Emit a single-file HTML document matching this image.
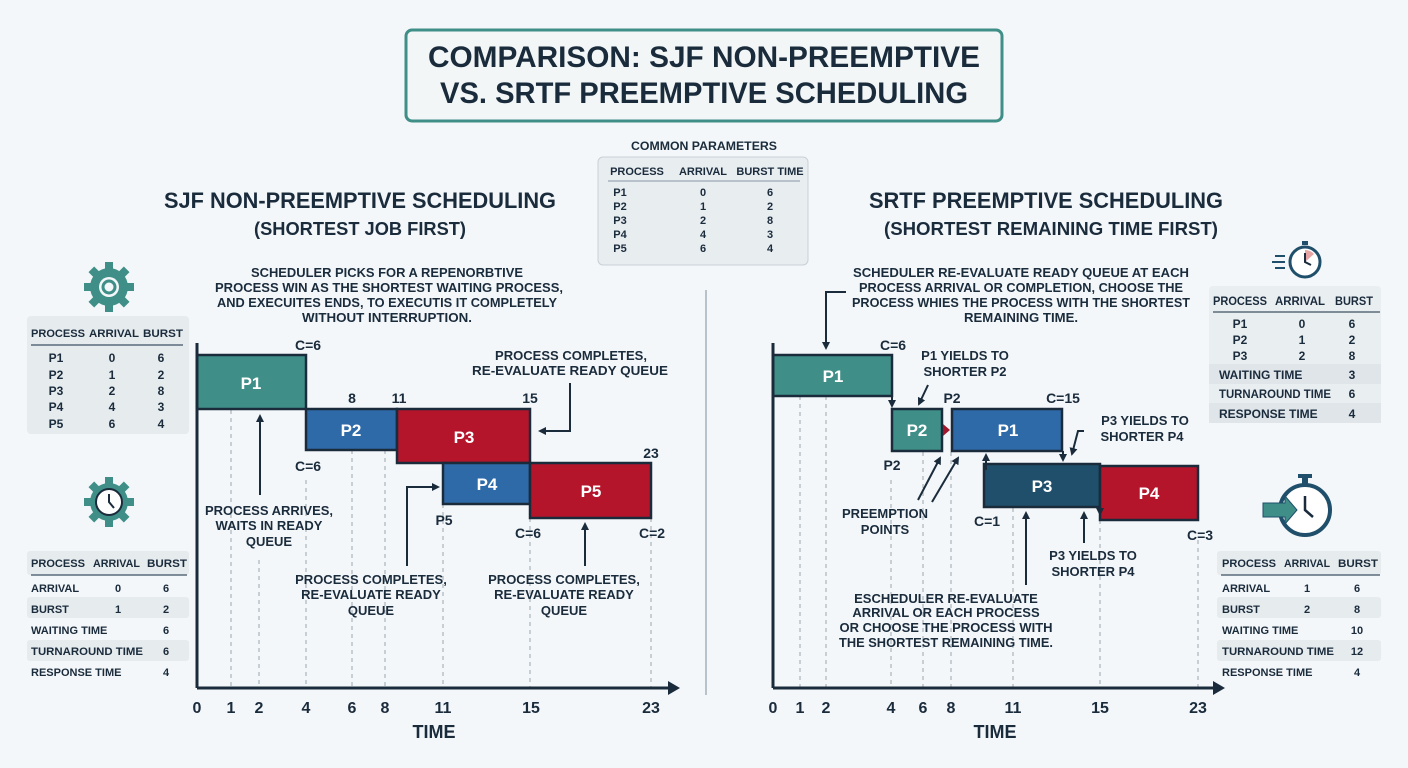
<!DOCTYPE html>
<html><head><meta charset="utf-8"><style>
html,body{margin:0;padding:0;background:#f4f7f9;}
svg{display:block;font-family:"Liberation Sans",sans-serif;font-weight:bold;}
</style></head><body>
<svg width="1408" height="768" viewBox="0 0 1408 768" xmlns="http://www.w3.org/2000/svg">
<defs>
<marker id="ar" markerWidth="8" markerHeight="8" refX="6" refY="4" orient="auto" markerUnits="userSpaceOnUse"><path d="M0,0 L8,4 L0,8 z" fill="#1a2b3c"/></marker>
</defs>
<rect width="1408" height="768" fill="#f4f7f9"/>
<g fill="#1a2b3c">
<!-- title -->
<rect x="406" y="30" width="596" height="91" rx="6" fill="#f2f6f6" stroke="#3f8f88" stroke-width="3"/>
<text x="704" y="67" font-size="30" text-anchor="middle" textLength="552" lengthAdjust="spacingAndGlyphs">COMPARISON: SJF NON-PREEMPTIVE</text>
<text x="704" y="103" font-size="30" text-anchor="middle" textLength="528" lengthAdjust="spacingAndGlyphs">VS. SRTF PREEMPTIVE SCHEDULING</text>

<!-- common parameters -->
<text x="704" y="150" font-size="12" text-anchor="middle" textLength="146" lengthAdjust="spacingAndGlyphs">COMMON PARAMETERS</text>
<rect x="598" y="157" width="210" height="108" rx="5" fill="#e8edf0" stroke="#c8d0d6"/>
<g font-size="11" text-anchor="middle">
<text x="637" y="175">PROCESS</text><text x="703" y="175">ARRIVAL</text><text x="770" y="175">BURST TIME</text>
<line x1="608" y1="181" x2="800" y2="181" stroke="#8a97a3"/>
<text x="620" y="196">P1</text><text x="703" y="196">0</text><text x="770" y="196">6</text>
<text x="620" y="210">P2</text><text x="703" y="210">1</text><text x="770" y="210">2</text>
<text x="620" y="224">P3</text><text x="703" y="224">2</text><text x="770" y="224">8</text>
<text x="620" y="238">P4</text><text x="703" y="238">4</text><text x="770" y="238">3</text>
<text x="620" y="252">P5</text><text x="703" y="252">6</text><text x="770" y="252">4</text>
</g>

<!-- headings -->
<text x="360" y="208" font-size="22" text-anchor="middle" textLength="392" lengthAdjust="spacingAndGlyphs">SJF NON-PREEMPTIVE SCHEDULING</text>
<text x="360" y="235" font-size="18" text-anchor="middle" textLength="212" lengthAdjust="spacingAndGlyphs">(SHORTEST JOB FIRST)</text>
<text x="1046" y="208" font-size="22" text-anchor="middle" textLength="354" lengthAdjust="spacingAndGlyphs">SRTF PREEMPTIVE SCHEDULING</text>
<text x="1051" y="235" font-size="18" text-anchor="middle" textLength="334" lengthAdjust="spacingAndGlyphs">(SHORTEST REMAINING TIME FIRST)</text>

<line x1="706" y1="290" x2="706" y2="695" stroke="#b8c2ca" stroke-width="2"/>

<!-- left description -->
<g font-size="13" text-anchor="middle">
<text x="387" y="277" textLength="272" lengthAdjust="spacingAndGlyphs">SCHEDULER PICKS FOR A REPENORBTIVE</text>
<text x="389" y="292" textLength="348" lengthAdjust="spacingAndGlyphs">PROCESS WIN AS THE SHORTEST WAITING PROCESS,</text>
<text x="387" y="307" textLength="340" lengthAdjust="spacingAndGlyphs">AND EXECUITES ENDS, TO EXECUTIS IT COMPLETELY</text>
<text x="387" y="322" textLength="170" lengthAdjust="spacingAndGlyphs">WITHOUT INTERRUPTION.</text>
</g>

<!-- left gear icon -->
<g transform="translate(109,287)">
<circle r="19" fill="#3f8f88"/>
<g fill="#3f8f88"><rect x="-4" y="-25" width="8" height="50"/><rect x="-25" y="-4" width="50" height="8"/>
<rect x="-4" y="-25" width="8" height="50" transform="rotate(45)"/><rect x="-4" y="-25" width="8" height="50" transform="rotate(-45)"/></g>
<circle r="10" fill="#f4f7f9"/><circle r="6" fill="none" stroke="#3f8f88" stroke-width="3"/>
</g>
<g transform="translate(109,502)">
<circle r="19" fill="#3f8f88"/>
<g fill="#3f8f88"><rect x="-4" y="-25" width="8" height="50"/><rect x="-25" y="-4" width="50" height="8"/>
<rect x="-4" y="-25" width="8" height="50" transform="rotate(45)"/><rect x="-4" y="-25" width="8" height="50" transform="rotate(-45)"/></g>
<circle r="13" fill="#fff" stroke="#1a2b3c" stroke-width="2"/>
<path d="M0,-8 L0,0 L5,6" stroke="#1a2b3c" stroke-width="2" fill="none"/>
</g>

<!-- left top table -->
<rect x="27" y="316" width="162" height="118" rx="4" fill="#e6ebee"/>
<g font-size="11">
<text x="31" y="337" textLength="54" lengthAdjust="spacingAndGlyphs">PROCESS</text><text x="89" y="337" textLength="50" lengthAdjust="spacingAndGlyphs">ARRIVAL</text><text x="143" y="337" textLength="40" lengthAdjust="spacingAndGlyphs">BURST</text>
<line x1="31" y1="345" x2="183" y2="345" stroke="#5a6b7a" stroke-width="1.5"/>
<g text-anchor="middle" font-size="12">
<text x="56" y="362">P1</text><text x="112" y="362">0</text><text x="161" y="362">6</text>
<text x="56" y="379">P2</text><text x="112" y="379">1</text><text x="161" y="379">2</text>
<text x="56" y="395">P3</text><text x="112" y="395">2</text><text x="161" y="395">8</text>
<text x="56" y="411">P4</text><text x="112" y="411">4</text><text x="161" y="411">3</text>
<text x="56" y="428">P5</text><text x="112" y="428">6</text><text x="161" y="428">4</text>
</g></g>

<!-- left bottom table -->
<rect x="27" y="551" width="162" height="24" rx="3" fill="#e6ebee"/>
<rect x="27" y="597" width="162" height="21" rx="3" fill="#e6ebee"/>
<rect x="27" y="640" width="162" height="21" rx="3" fill="#e6ebee"/>
<line x1="31" y1="575" x2="187" y2="575" stroke="#5a6b7a" stroke-width="1.5"/>
<g font-size="11">
<text x="31" y="567" textLength="54" lengthAdjust="spacingAndGlyphs">PROCESS</text><text x="93" y="567" textLength="47" lengthAdjust="spacingAndGlyphs">ARRIVAL</text><text x="147" y="567" textLength="40" lengthAdjust="spacingAndGlyphs">BURST</text>
<text x="31" y="592">ARRIVAL</text><text x="118" y="592" text-anchor="middle">0</text><text x="166" y="592" text-anchor="middle">6</text>
<text x="31" y="613">BURST</text><text x="118" y="613" text-anchor="middle">1</text><text x="166" y="613" text-anchor="middle">2</text>
<text x="31" y="634">WAITING TIME</text><text x="166" y="634" text-anchor="middle">6</text>
<text x="31" y="655" textLength="112" lengthAdjust="spacingAndGlyphs">TURNAROUND TIME</text><text x="166" y="655" text-anchor="middle">6</text>
<text x="31" y="676">RESPONSE TIME</text><text x="166" y="676" text-anchor="middle">4</text>
</g>

<!-- left chart dashed lines -->
<g stroke="#9aa6b0" stroke-dasharray="4,4" stroke-width="1">
<line x1="231" y1="410" x2="231" y2="688"/><line x1="259" y1="560" x2="259" y2="688"/>
<line x1="306" y1="480" x2="306" y2="688"/><line x1="352" y1="450" x2="352" y2="688"/>
<line x1="385" y1="450" x2="385" y2="688"/><line x1="443" y1="504" x2="443" y2="688"/>
<line x1="530" y1="518" x2="530" y2="688"/><line x1="651" y1="518" x2="651" y2="688"/>
</g>
<!-- left bars -->
<g stroke="#1a2b3c" stroke-width="2.5">
<rect x="197" y="355" width="109" height="54" fill="#3f8f88"/>
<rect x="306" y="409" width="91" height="41" fill="#2f6aa8"/>
<rect x="397" y="409" width="133" height="54" fill="#b5152b"/>
<rect x="443" y="463" width="87" height="41" fill="#2f6aa8"/>
<rect x="530" y="463" width="121" height="55" fill="#b5152b"/>
</g>
<g fill="#fff" font-size="17" text-anchor="middle">
<text x="251" y="389">P1</text><text x="351" y="436">P2</text><text x="464" y="443">P3</text><text x="487" y="490">P4</text><text x="591" y="497">P5</text>
</g>
<!-- left axes -->
<line x1="197" y1="343" x2="197" y2="688" stroke="#1a2b3c" stroke-width="3"/>
<line x1="197" y1="688" x2="670" y2="688" stroke="#1a2b3c" stroke-width="3"/>
<path d="M668,681 L680,688 L668,695 z"/>
<g font-size="16" text-anchor="middle">
<text x="197" y="713">0</text><text x="231" y="713">1</text><text x="259" y="713">2</text><text x="306" y="713">4</text><text x="352" y="713">6</text><text x="385" y="713">8</text><text x="443" y="713">11</text><text x="531" y="713">15</text><text x="651" y="713">23</text>
</g>
<text x="434" y="738" font-size="18" text-anchor="middle">TIME</text>
<!-- left labels -->
<g font-size="14" text-anchor="middle">
<text x="308" y="350">C=6</text><text x="352" y="403">8</text><text x="399" y="403">11</text><text x="530" y="403">15</text><text x="651" y="458">23</text>
<text x="308" y="471">C=6</text><text x="444" y="525">P5</text><text x="528" y="538">C=6</text><text x="652" y="538">C=2</text>
</g>
<g font-size="13" text-anchor="middle">
<text x="571" y="360" textLength="152" lengthAdjust="spacingAndGlyphs">PROCESS COMPLETES,</text>
<text x="570" y="375" textLength="196" lengthAdjust="spacingAndGlyphs">RE-EVALUATE READY QUEUE</text>
<text x="269" y="515">PROCESS ARRIVES,</text><text x="269" y="530">WAITS IN READY</text><text x="269" y="546">QUEUE</text>
<text x="371" y="584">PROCESS COMPLETES,</text><text x="371" y="599">RE-EVALUATE READY</text><text x="371" y="615">QUEUE</text>
<text x="564" y="584">PROCESS COMPLETES,</text><text x="564" y="599">RE-EVALUATE READY</text><text x="564" y="615">QUEUE</text>
</g>
<g stroke="#1a2b3c" stroke-width="2" fill="none" marker-end="url(#ar)">
<line x1="260" y1="495" x2="260" y2="416"/>
<path d="M570,383 L570,431 L540,431"/>
<path d="M407,566 L407,487 L438,487"/>
<line x1="585" y1="566" x2="585" y2="524"/>
</g>

<!-- RIGHT -->
<g font-size="13" text-anchor="middle">
<text x="1021" y="277" textLength="336" lengthAdjust="spacingAndGlyphs">SCHEDULER RE-EVALUATE READY QUEUE AT EACH</text>
<text x="1021" y="292" textLength="324" lengthAdjust="spacingAndGlyphs">PROCESS ARRIVAL OR COMPLETION, CHOOSE THE</text>
<text x="1021" y="307" textLength="338" lengthAdjust="spacingAndGlyphs">PROCESS WHIES THE PROCESS WITH THE SHORTEST</text>
<text x="1021" y="322" textLength="114" lengthAdjust="spacingAndGlyphs">REMAINING TIME.</text>
</g>
<!-- stopwatch top right -->
<g transform="translate(1305,262)">
<circle r="15" fill="#fff" stroke="#1f4f6a" stroke-width="3"/>
<path d="M0,0 L0,-12 A12,12 0 0 1 9,-8 z" fill="#e7a4a4"/>
<path d="M0,-9 L0,0 L6,3" stroke="#1a2b3c" stroke-width="2" fill="none"/>
<rect x="-3" y="-21" width="6" height="4" fill="#1f4f6a"/>
<g stroke="#1f4f6a" stroke-width="2"><line x1="-30" y1="-6" x2="-20" y2="-6"/><line x1="-33" y1="0" x2="-20" y2="0"/><line x1="-30" y1="6" x2="-20" y2="6"/></g>
</g>
<!-- right top table -->
<rect x="1209" y="286" width="172" height="137" rx="4" fill="#e9eef1"/>
<rect x="1209" y="364" width="172" height="20" fill="#dfe5e9"/>
<rect x="1209" y="403" width="172" height="20" fill="#dfe5e9"/>
<line x1="1213" y1="312" x2="1380" y2="312" stroke="#5a6b7a" stroke-width="1.5"/>
<g font-size="12">
<text x="1213" y="305" textLength="54" lengthAdjust="spacingAndGlyphs">PROCESS</text><text x="1275" y="305" textLength="50" lengthAdjust="spacingAndGlyphs">ARRIVAL</text><text x="1335" y="305" textLength="38" lengthAdjust="spacingAndGlyphs">BURST</text>
<g text-anchor="middle"><text x="1240" y="328">P1</text><text x="1302" y="328">0</text><text x="1352" y="328">6</text>
<text x="1240" y="344">P2</text><text x="1302" y="344">1</text><text x="1352" y="344">2</text>
<text x="1240" y="360">P3</text><text x="1302" y="360">2</text><text x="1352" y="360">8</text>
<text x="1352" y="379">3</text><text x="1352" y="398">6</text><text x="1352" y="418">4</text></g>
<text x="1219" y="379">WAITING TIME</text><text x="1219" y="398" textLength="112" lengthAdjust="spacingAndGlyphs">TURNAROUND TIME</text><text x="1219" y="418">RESPONSE TIME</text>
</g>
<!-- stopwatch bottom right -->
<g transform="translate(1305,510)">
<circle r="25" fill="#fff" stroke="#1f4f6a" stroke-width="4"/>
<rect x="-3" y="-34" width="6" height="8" fill="#1f4f6a"/><rect x="-7" y="-36" width="14" height="4" fill="#1f4f6a"/>
<path d="M0,-14 L0,0 L8,7" stroke="#1a2b3c" stroke-width="2.5" fill="none"/>
<path d="M-42,-7 L-20,-7 L-20,-14 L-8,0 L-20,14 L-20,7 L-42,7 z" fill="#3f8f88" stroke="#1f4f6a"/>
</g>
<!-- right bottom table -->
<rect x="1217" y="551" width="164" height="24" rx="3" fill="#e6ebee"/>
<rect x="1217" y="597" width="164" height="21" rx="3" fill="#e6ebee"/>
<rect x="1217" y="640" width="164" height="21" rx="3" fill="#e6ebee"/>
<line x1="1221" y1="575" x2="1380" y2="575" stroke="#5a6b7a" stroke-width="1.5"/>
<g font-size="11">
<text x="1222" y="567" textLength="54" lengthAdjust="spacingAndGlyphs">PROCESS</text><text x="1284" y="567" textLength="46" lengthAdjust="spacingAndGlyphs">ARRIVAL</text><text x="1338" y="567" textLength="40" lengthAdjust="spacingAndGlyphs">BURST</text>
<text x="1222" y="592">ARRIVAL</text><text x="1307" y="592" text-anchor="middle">1</text><text x="1357" y="592" text-anchor="middle">6</text>
<text x="1222" y="613">BURST</text><text x="1307" y="613" text-anchor="middle">2</text><text x="1357" y="613" text-anchor="middle">8</text>
<text x="1222" y="634">WAITING TIME</text><text x="1357" y="634" text-anchor="middle">10</text>
<text x="1222" y="655" textLength="112" lengthAdjust="spacingAndGlyphs">TURNAROUND TIME</text><text x="1357" y="655" text-anchor="middle">12</text>
<text x="1222" y="676">RESPONSE TIME</text><text x="1357" y="676" text-anchor="middle">4</text>
</g>

<!-- right dashed -->
<g stroke="#9aa6b0" stroke-dasharray="4,4" stroke-width="1">
<line x1="800" y1="396" x2="800" y2="688"/><line x1="826" y1="396" x2="826" y2="688"/>
<line x1="891" y1="480" x2="891" y2="688"/><line x1="923" y1="452" x2="923" y2="688"/>
<line x1="951" y1="452" x2="951" y2="688"/><line x1="1013" y1="508" x2="1013" y2="688"/>
<line x1="1100" y1="520" x2="1100" y2="688"/><line x1="1198" y1="540" x2="1198" y2="688"/>
</g>
<g stroke="#1a2b3c" stroke-width="2.5">
<rect x="773" y="355" width="119" height="41" fill="#3f8f88"/>
<rect x="892" y="409" width="50" height="42" fill="#3f8f88"/>
<rect x="952" y="409" width="110" height="42" fill="#2f6aa8"/>
<rect x="984" y="464" width="116" height="43" fill="#1f4f6a"/>
<rect x="1100" y="466" width="98" height="54" fill="#b5152b"/>
</g>
<path d="M943,424 L950,430 L943,436 z" fill="#a0182d"/>
<g fill="#fff" font-size="17" text-anchor="middle">
<text x="833" y="382">P1</text><text x="917" y="436">P2</text><text x="1008" y="436">P1</text><text x="1042" y="492">P3</text><text x="1149" y="499">P4</text>
</g>
<line x1="773" y1="343" x2="773" y2="688" stroke="#1a2b3c" stroke-width="3"/>
<line x1="773" y1="688" x2="1215" y2="688" stroke="#1a2b3c" stroke-width="3"/>
<path d="M1213,681 L1225,688 L1213,695 z"/>
<g font-size="16" text-anchor="middle">
<text x="773" y="713">0</text><text x="800" y="713">1</text><text x="826" y="713">2</text><text x="891" y="713">4</text><text x="923" y="713">6</text><text x="951" y="713">8</text><text x="1013" y="713">11</text><text x="1100" y="713">15</text><text x="1198" y="713">23</text>
</g>
<text x="995" y="738" font-size="18" text-anchor="middle">TIME</text>
<g font-size="14" text-anchor="middle">
<text x="893" y="350">C=6</text><text x="952" y="403">P2</text><text x="1063" y="403">C=15</text>
<text x="892" y="470">P2</text><text x="987" y="526">C=1</text><text x="1200" y="540">C=3</text>
</g>
<g font-size="13" text-anchor="middle">
<text x="965" y="360">P1 YIELDS TO</text><text x="965" y="376">SHORTER P2</text>
<text x="1145" y="425">P3 YIELDS TO</text><text x="1142" y="441">SHORTER P4</text>
<text x="885" y="518">PREEMPTION</text><text x="885" y="534">POINTS</text>
<text x="1093" y="560">P3 YIELDS TO</text><text x="1093" y="576">SHORTER P4</text>
<text x="946" y="603">ESCHEDULER RE-EVALUATE</text><text x="946" y="617">ARRIVAL OR EACH PROCESS</text>
<text x="946" y="632">OR CHOOSE THE PROCESS WITH</text><text x="946" y="647" textLength="214" lengthAdjust="spacingAndGlyphs">THE SHORTEST REMAINING TIME.</text>
</g>
<g stroke="#1a2b3c" stroke-width="2" fill="none" marker-end="url(#ar)">
<path d="M846,292 L826,292 L826,348"/>
<line x1="892" y1="397" x2="892" y2="406"/>
<line x1="928" y1="385" x2="919" y2="404"/>
<line x1="918" y1="500" x2="940" y2="458"/>
<line x1="932" y1="502" x2="958" y2="458"/>
<line x1="986" y1="470" x2="986" y2="455"/>
<line x1="1063" y1="451" x2="1063" y2="460"/>
<path d="M1084,431 L1078,431 L1072,454"/>
<line x1="1026" y1="585" x2="1026" y2="513"/>
<line x1="1084" y1="543" x2="1084" y2="513"/>
<line x1="1100" y1="507" x2="1100" y2="514"/>
</g>
</g>
</svg>
</body></html>
